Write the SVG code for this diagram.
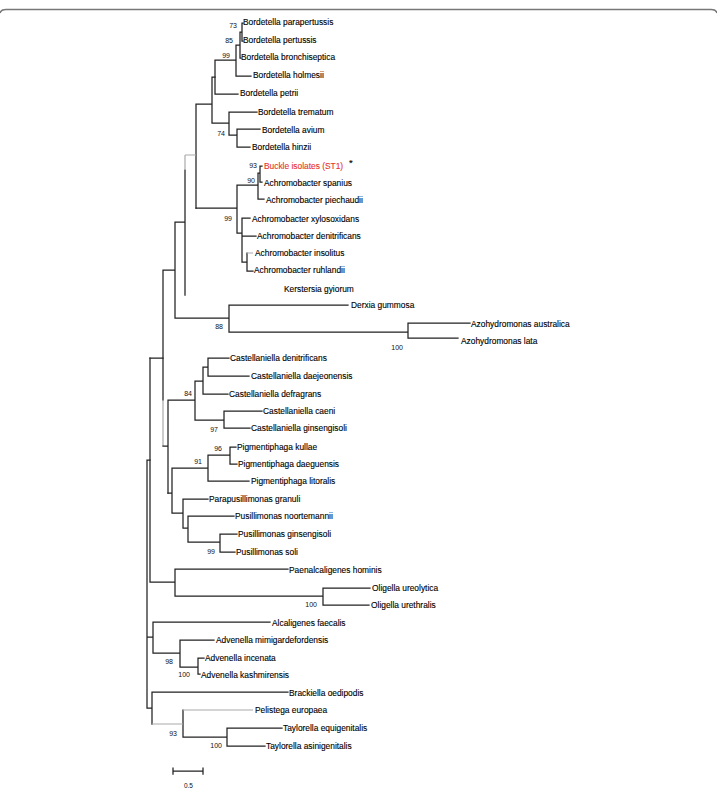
<svg xmlns="http://www.w3.org/2000/svg" width="717" height="788" viewBox="0 0 717 788">
<style>
.t{font-family:"Liberation Sans",Arial,sans-serif;font-size:8.4px;fill:#000;stroke:#000;stroke-width:0.12}
.b{font-family:"Liberation Sans",Arial,sans-serif;font-size:7px;fill:#111;text-anchor:end}
.l{fill:none;stroke:#222;stroke-width:1.25;stroke-linecap:square}
.g{fill:none;stroke:#aaa;stroke-width:1.2}
.red{fill:#e8322b;stroke:#e8322b}
</style>
<rect width="717" height="788" fill="#fff"/>
<path d="M0 13 Q1 9.5 6 9.5 H711 Q716 9.5 717 13" fill="none" stroke="#777" stroke-width="1.5"/>

<g id="connectors">
<path class="l" d="M242 23V41M242 23H243M242 41H243M240 32V58M240 32H242M240 58H241M236 45V76M236 45H240M236 76H251M215 60V94M215 60H236M215 94H238"/>
<path class="l" d="M229 112V135M229 112H257M229 135H237M237 129V147M237 129H260M237 147H250M212 77V123M212 77H215M212 123H229M196 104V208M196 104H212"/>
<path class="l" d="M196 208H237M237 185V233M237 185H258M258 173V199M258 173H260M258 199H264M260 166V182M260 166H262M260 182H262M237 233H242M242 218V262M242 218H250M242 236H256M242 262H247M247 271H253M247 253V271"/>
<path class="g" d="M247 253H253M185 155H196"/>
<path class="l" d="M185 170V295M175 222H185M175 222V318M175 318H229M229 305V332M229 305H348M229 332H408M408 323V338M408 323H470M408 338H458M163 270H175M163 270V400"/>
<path class="g" d="M185 155V170M163 400V446"/>
<path class="l" d="M150 358H163M163 446H168M168 400V493M168 400H195M195 381V420M195 381H203M203 367V394M203 367H208M203 394H228M208 358V376M208 358H229M208 376H249M195 420H224M224 411V428M224 411H262M224 428H250"/>
<path class="l" d="M168 493H172M172 468V513M172 468H208M208 455V481M208 455H230M208 481H249M230 447V464M230 447H236M230 464H237M172 513H183M183 499V528M183 499H208M183 528H188M188 516V542M188 516H234M188 542H220M220 534V552M220 534H237M220 552H235"/>
<path class="l" d="M150 358V582M150 582H175M175 569V596M175 569H288M175 596H323M323 588V605M323 588H370M323 605H369"/>
<path class="l" d="M147 460V708M147 460H150M147 637H153M153 622V653M153 622H270M153 653H180M180 640V667M180 640H214M180 667H198M198 658V674M198 658H204M198 674H200M147 708H152M152 692V724M152 692H288M183 710V737M183 737H227M227 728V746M227 728H282M227 746H265"/>
<path class="g" d="M152 724H183M183 710H253"/>
<path class="l" d="M173 771H203M173 768V774M203 768V774"/>
</g>

<g id="support">
<text class="b" x="237" y="27.5">73</text>
<text class="b" x="233" y="42.5">85</text>
<text class="b" x="230" y="57.5">99</text>
<text class="b" x="225" y="135.5">74</text>
<text class="b" x="257" y="167.5">93</text>
<text class="b" x="255" y="182.5">90</text>
<text class="b" x="232" y="220.5">99</text>
<text class="b" x="223" y="328.5">88</text>
<text class="b" x="403" y="349.5">100</text>
<text class="b" x="192" y="395.5">84</text>
<text class="b" x="218" y="431.5">97</text>
<text class="b" x="222" y="450.5">96</text>
<text class="b" x="202" y="463.5">91</text>
<text class="b" x="215" y="553.5">99</text>
<text class="b" x="317" y="606.5">100</text>
<text class="b" x="173" y="663.5">98</text>
<text class="b" x="190" y="676.5">100</text>
<text class="b" x="177" y="735.5">93</text>
<text class="b" x="222" y="747.5">100</text>
</g>

<g id="n1"><text class="t" x="243" y="25">Bordetella parapertussis</text></g>
<g id="n2"><text class="t" x="243" y="43">Bordetella pertussis</text></g>
<g id="n3"><text class="t" x="241" y="60">Bordetella bronchiseptica</text></g>
<g id="n4"><text class="t" x="253" y="78">Bordetella holmesii</text></g>
<g id="n5"><text class="t" x="240" y="96">Bordetella petrii</text></g>
<g id="n6"><text class="t" x="258" y="115">Bordetella trematum</text></g>
<g id="n7"><text class="t" x="262" y="133">Bordetella avium</text></g>
<g id="n8"><text class="t" x="252" y="150">Bordetella hinzii</text></g>
<g id="n9"><text class="t red" x="264" y="169">Buckle isolates (ST1)</text><text class="t" x="349" y="166" style="font-size:9.5px">*</text></g>
<g id="n10"><text class="t" x="264" y="186">Achromobacter spanius</text></g>
<g id="n11"><text class="t" x="266" y="203">Achromobacter piechaudii</text></g>
<g id="n12"><text class="t" x="252" y="222">Achromobacter xylosoxidans</text></g>
<g id="n13"><text class="t" x="257" y="239">Achromobacter denitrificans</text></g>
<g id="n14"><text class="t" x="255" y="256">Achromobacter insolitus</text></g>
<g id="n15"><text class="t" x="254" y="273">Achromobacter ruhlandii</text></g>
<g id="n16"><text class="t" x="284" y="292">Kerstersia gyiorum</text></g>
<g id="n17"><text class="t" x="351" y="308">Derxia gummosa</text></g>
<g id="n18"><text class="t" x="471" y="327">Azohydromonas australica</text></g>
<g id="n19"><text class="t" x="461" y="344">Azohydromonas lata</text></g>
<g id="n20"><text class="t" x="230" y="361">Castellaniella denitrificans</text></g>
<g id="n21"><text class="t" x="251" y="379">Castellaniella daejeonensis</text></g>
<g id="n22"><text class="t" x="229" y="397">Castellaniella defragrans</text></g>
<g id="n23"><text class="t" x="263" y="414">Castellaniella caeni</text></g>
<g id="n24"><text class="t" x="251" y="431">Castellaniella ginsengisoli</text></g>
<g id="n25"><text class="t" x="237" y="450">Pigmentiphaga kullae</text></g>
<g id="n26"><text class="t" x="238" y="467">Pigmentiphaga daeguensis</text></g>
<g id="n27"><text class="t" x="251" y="484">Pigmentiphaga litoralis</text></g>
<g id="n28"><text class="t" x="209" y="502">Parapusillimonas granuli</text></g>
<g id="n29"><text class="t" x="235" y="519">Pusillimonas noortemannii</text></g>
<g id="n30"><text class="t" x="238" y="537">Pusillimonas ginsengisoli</text></g>
<g id="n31"><text class="t" x="236" y="555">Pusillimonas soli</text></g>
<g id="n32"><text class="t" x="289" y="573">Paenalcaligenes hominis</text></g>
<g id="n33"><text class="t" x="372" y="591">Oligella ureolytica</text></g>
<g id="n34"><text class="t" x="371" y="608">Oligella urethralis</text></g>
<g id="n35"><text class="t" x="272" y="626">Alcaligenes faecalis</text></g>
<g id="n36"><text class="t" x="216" y="643">Advenella mimigardefordensis</text></g>
<g id="n37"><text class="t" x="205" y="661">Advenella incenata</text></g>
<g id="n38"><text class="t" x="201" y="678">Advenella kashmirensis</text></g>
<g id="n39"><text class="t" x="289" y="696">Brackiella oedipodis</text></g>
<g id="n40"><text class="t" x="255" y="713">Pelistega europaea</text></g>
<g id="n41"><text class="t" x="283" y="731">Taylorella equigenitalis</text></g>
<g id="n42"><text class="t" x="266" y="749">Taylorella asinigenitalis</text></g>
<g id="scale"><text class="b" x="193" y="787.5" style="font-size:6.5px">0.5</text></g>
</svg>
